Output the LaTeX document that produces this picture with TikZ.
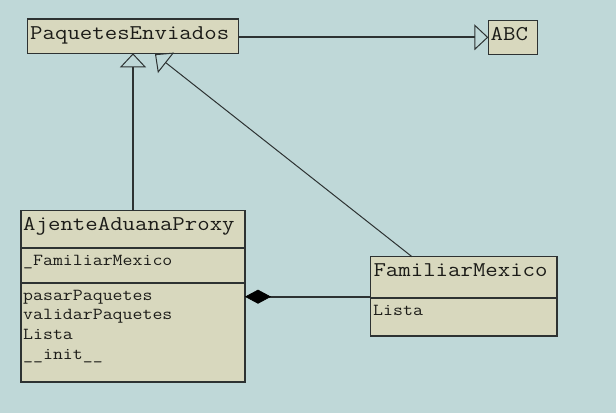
\documentclass[tikz,border=0pt]{standalone}
\usepackage{fontspec}
\setmonofont[FakeStretch=1.15]{Latin Modern Mono}
\usetikzlibrary{arrows.meta}
\definecolor{bgc}{RGB}{191,216,216}
\definecolor{boxc}{RGB}{216,216,190}
\definecolor{txtc}{RGB}{28,28,24}
\definecolor{linec}{RGB}{45,50,50}
\tikzset{
  classbox/.style={draw=linec, fill=boxc, line width=1.3pt, anchor=north west, inner sep=0pt, outer sep=0pt},
  titletext/.style={anchor=base west, inner sep=0pt, text=txtc, font=\ttfamily\fontsize{21}{22}\selectfont},
  membertext/.style={anchor=base west, inner sep=0pt, text=txtc, font=\ttfamily\fontsize{16.8}{18}\selectfont},
  sepline/.style={draw=linec, line width=1.3pt},
  inherit/.style={draw=linec, line width=1.8pt, -{Triangle[open, length=14pt, width=26pt, line width=1pt]}},
  inheritthin/.style={draw=linec, line width=1pt, -{Triangle[open, length=14pt, width=26pt, line width=1pt]}},
  compose/.style={draw=linec, line width=1.8pt, -{Diamond[length=26pt, width=14pt, line width=0.6pt, color=black, fill=black]}}
}
\begin{document}
\begin{tikzpicture}[x=1pt, y=-1pt]
\fill[bgc] (0,0) rectangle (616,413);
\useasboundingbox (0,0) rectangle (616,413);

% PaquetesEnviados
\node[classbox, minimum width=211.4pt, minimum height=34.3pt] (pe) at (27.3,19) {};
\node[titletext] (pet) at (30,39.3) {PaquetesEnviados};

% ABC
\node[classbox, minimum width=49pt, minimum height=34pt] (abc) at (488.3,20.3) {};
\node[titletext] (abct) at (490.5,40.5) {ABC};

% AjenteAduanaProxy
\node[classbox, minimum width=224pt, minimum height=171.3pt] (aj) at (21,210.7) {};
\node[titletext] (ajt) at (23,230) {AjenteAduanaProxy};
\coordinate (ajs1) at (0,248);
\coordinate (ajs2) at (0,283);
\draw[sepline] (aj.west |- ajs1) -- (aj.east |- ajs1);
\draw[sepline] (aj.west |- ajs2) -- (aj.east |- ajs2);
\node[membertext] (aja1) at (23,265) {\_FamiliarMexico};
\node[membertext] (ajm1) at (23,300) {pasarPaquetes};
\node[membertext] (ajm2) at (23,319.7) {validarPaquetes};
\node[membertext] (ajm3) at (23,339.4) {Lista};
\node[membertext] (ajm4) at (23,359.1) {\_\_init\_\_};

% FamiliarMexico
\node[classbox, minimum width=186.3pt, minimum height=79.3pt] (fm) at (370.7,256.7) {};
\node[titletext] (fmt) at (373.3,276.7) {FamiliarMexico};
\coordinate (fms1) at (0,298);
\draw[sepline] (fm.west |- fms1) -- (fm.east |- fms1);
\node[membertext] (fma1) at (373,315) {Lista};

% connectors
\draw[inherit] (pe.east |- abc.west) -- (abc.west);
\draw[inherit] (aj.north) -- (pe.south);
\coordinate (fmtop) at (412,256.7);
\coordinate (petip) at (155,54.2);
\draw[inheritthin] (fmtop) -- (petip);
\coordinate (fmleft) at (0,296.7);
\draw[compose] (fm.west |- fmleft) -- (aj.east |- fmleft);
\end{tikzpicture}
\end{document}
